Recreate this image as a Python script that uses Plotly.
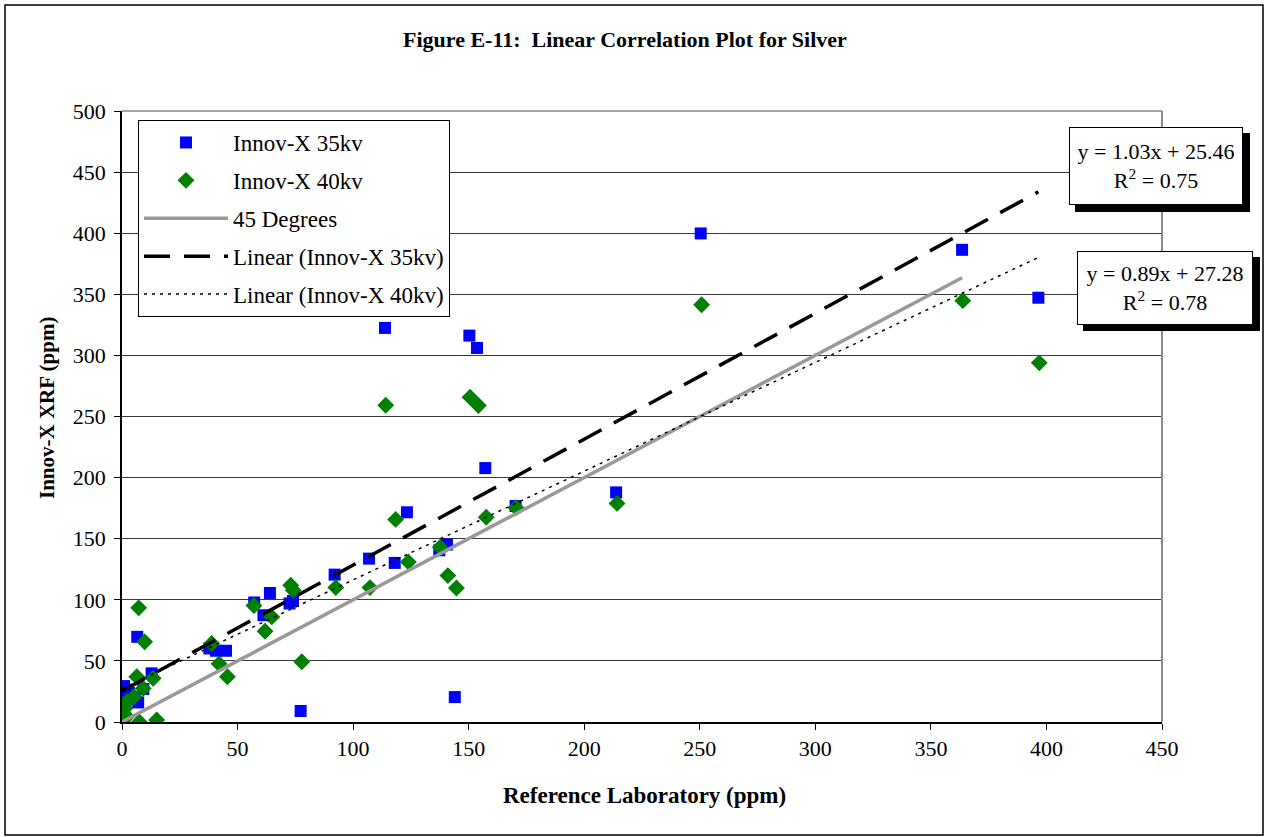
import plotly.graph_objects as go

# ---- data ----
x35 = [396.5, 363.5, 250.4, 213.8, 170.3, 157.2, 153.6, 150.3, 144.0, 140.6, 137.3, 123.3,
       118.0, 113.8, 106.9, 92.0, 77.3, 74.0, 72.5, 64.0, 61.2, 57.2, 45.0, 40.7, 37.8,
       12.8, 9.2, 7.0, 6.6, 3.0, 1.5, 0.9, 0.6, 0.5]
y35 = [347.2, 386.4, 399.8, 187.9, 176.7, 207.8, 306.1, 316.2, 20.4, 145.2, 140.5, 171.6,
       130.2, 322.5, 133.7, 120.6, 9.0, 99.0, 97.0, 105.6, 87.4, 97.8, 58.3, 58.3, 60.2,
       39.8, 27.0, 16.0, 69.7, 24.0, 18.0, 29.4, 20.7, 15.0]

x40 = [396.9, 363.8, 250.8, 214.2, 170.5, 157.6, 154.2, 150.6, 144.7, 141.0, 137.7, 123.9,
       118.4, 114.1, 107.3, 92.5, 77.8, 74.1, 73.0, 64.8, 61.9, 57.1, 45.6, 42.0, 38.8,
       15.0, 13.5, 9.8, 9.2, 7.5, 7.2, 6.4, 5.2, 2.0, 1.3, 2.0, 0.6]
y40 = [293.9, 344.8, 341.5, 178.9, 175.4, 167.5, 259.0, 265.8, 109.7, 119.8, 143.0, 131.0,
       165.8, 259.2, 110.0, 110.0, 49.3, 107.8, 111.9, 86.0, 74.3, 95.3, 37.0, 47.6, 64.3,
       1.6, 35.7, 65.6, 27.5, 0.0, 93.4, 37.0, 20.7, 16.6, 11.2, 4.3, 7.4]

deg45_x = [0, 363.5]
fit35 = {"slope": 1.03, "intercept": 25.46, "r2": 0.75}
fit40 = {"slope": 0.89, "intercept": 27.28, "r2": 0.78}
fit_x = [0, 396.5]

x_ticks = [0, 50, 100, 150, 200, 250, 300, 350, 400, 450]
y_ticks = [0, 50, 100, 150, 200, 250, 300, 350, 400, 450, 500]

FONT = "Liberation Serif"
W, H = 1265, 837
L, R, T, B = 122, 103, 111, 115
PW, PH = W - L - R, H - T - B


def px(xp):
    return (xp - L) / PW


def py(yp):
    return (H - B - yp) / PH


fig = go.Figure()
fig.add_trace(go.Scatter(x=x35, y=y35, mode="markers", name="Innov-X 35kv",
                         legendgroup="a",
                         marker=dict(symbol="square", size=12, color="#0000FF",
                                     line=dict(width=0))))
fig.add_trace(go.Scatter(x=x40, y=y40, mode="markers", name="Innov-X 40kv",
                         legendgroup="b",
                         marker=dict(symbol="diamond", size=13, color="#008000",
                                     line=dict(width=0))))
fig.add_trace(go.Scatter(x=deg45_x, y=deg45_x, mode="lines", name="45 Degrees",
                         legendgroup="c",
                         line=dict(color="#999999", width=3.5)))
fig.add_trace(go.Scatter(x=fit_x, y=[fit35["slope"] * v + fit35["intercept"] for v in fit_x],
                         mode="lines", name="Linear (Innov-X 35kv)", legendgroup="d",
                         line=dict(color="black", width=3.5, dash="26px,14px")))
fig.add_trace(go.Scatter(x=fit_x, y=[fit40["slope"] * v + fit40["intercept"] for v in fit_x],
                         mode="lines", name="Linear (Innov-X 40kv)", legendgroup="e",
                         line=dict(color="black", width=1.5, dash="3px,5px")))

axis_common = dict(showline=True, linecolor="black", linewidth=1.5, ticks="outside",
                   ticklen=6, tickcolor="black", tickfont=dict(family=FONT, size=22, color="black"),
                   zeroline=False)
fig.update_xaxes(range=[0, 450], tickvals=x_ticks, ticktext=[str(v) for v in x_ticks],
                 showgrid=False, **axis_common)
fig.update_yaxes(range=[0, 500], tickvals=y_ticks, ticktext=[str(v) for v in y_ticks],
                 showgrid=True, gridcolor="#3a3a3a", gridwidth=1, ticklabelstandoff=4,
                 **axis_common)

shapes = [
    # plot area top/right border (gray)
    dict(type="line", xref="paper", yref="paper", x0=0, x1=1, y0=1, y1=1,
         line=dict(color="#8a8a8a", width=1.5)),
    dict(type="line", xref="paper", yref="paper", x0=1, x1=1, y0=0, y1=1,
         line=dict(color="#8a8a8a", width=2)),
    # outer frame
    dict(type="rect", xref="paper", yref="paper", x0=px(5), x1=px(1263), y0=py(835), y1=py(5),
         line=dict(color="black", width=1.5), layer="below"),
    # equation box shadows
    dict(type="rect", xref="paper", yref="paper", x0=px(1075), x1=px(1250), y0=py(212), y1=py(133),
         fillcolor="black", line=dict(width=0), layer="above"),
    dict(type="rect", xref="paper", yref="paper", x0=px(1083), x1=px(1260), y0=py(331), y1=py(257),
         fillcolor="black", line=dict(width=0), layer="above"),
]

annotations = [
    dict(text="<b>Figure E-11:  Linear Correlation Plot for Silver</b>", xref="paper", yref="paper",
         x=px(625), y=py(40), xanchor="center", yanchor="middle", showarrow=False,
         font=dict(family=FONT, size=22, color="black")),
    dict(text="<b>Reference Laboratory (ppm)</b>", xref="paper", yref="paper",
         x=px(644), y=py(795), xanchor="center", yanchor="middle", showarrow=False,
         font=dict(family=FONT, size=23, color="black")),
    dict(text="<b>Innov-X XRF (ppm)</b>", xref="paper", yref="paper", textangle=-90,
         x=px(47), y=py(408), xanchor="center", yanchor="middle", showarrow=False,
         font=dict(family=FONT, size=21, color="black")),
    dict(text="y = %.2fx + %.2f<br>R<sup>2</sup> = %.2f" % (fit35["slope"], fit35["intercept"], fit35["r2"]),
         xref="paper", yref="paper", x=px(1069), y=py(127), xanchor="left", yanchor="top",
         showarrow=False, width=172, height=76, bgcolor="white", bordercolor="black",
         borderwidth=1, borderpad=0, align="center",
         font=dict(family=FONT, size=22, color="black")),
    dict(text="y = %.2fx + %.2f<br>R<sup>2</sup> = %.2f" % (fit40["slope"], fit40["intercept"], fit40["r2"]),
         xref="paper", yref="paper", x=px(1077), y=py(251), xanchor="left", yanchor="top",
         showarrow=False, width=174, height=72, bgcolor="white", bordercolor="black",
         borderwidth=1, borderpad=0, align="center",
         font=dict(family=FONT, size=22, color="black")),
]

fig.update_layout(
    width=W, height=H,
    margin=dict(l=L, r=R, t=T, b=B, autoexpand=False),
    paper_bgcolor="white", plot_bgcolor="white",
    font=dict(family=FONT, color="black"),
    showlegend=True,
    legend=dict(x=px(138), y=py(120), xanchor="left", yanchor="top",
                bgcolor="white", bordercolor="black", borderwidth=1,
                font=dict(family=FONT, size=23, color="black"),
                tracegroupgap=5, itemwidth=84, traceorder="grouped"),
    shapes=shapes,
    annotations=annotations,
)

fig.write_html("out.html", config={"displayModeBar": False},
               post_script="document.body.style.margin='0';")
